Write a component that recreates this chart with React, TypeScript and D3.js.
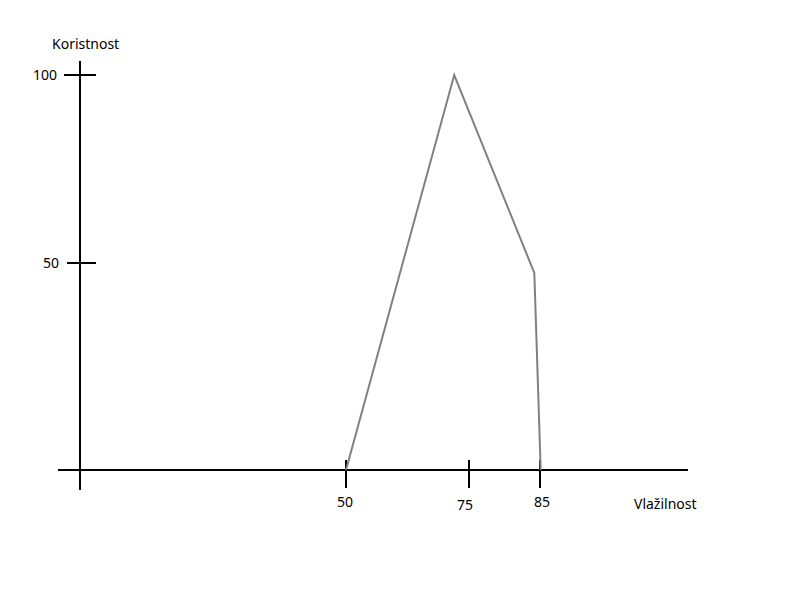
import React from "react";
import * as d3 from "d3";

const xTicks = [50, 75, 85];
const yTicks = [50, 100];
const curveX = [50, 72, 84.2, 85.1];
const curveY = [0, 100, 47.6, 0];
const xLabel = "Vlažilnost";
const yLabel = "Koristnost";

export default function App() {
  const W = 800, H = 600;
  // hand-drawn chart: piecewise linear scales
  const x = d3.scaleLinear().domain([50, 75, 85]).range([346, 469, 540]);
  const y = d3.scaleLinear().domain([0, 50, 100]).range([470, 263, 75]);
  const axisX0 = 80;
  const axisY0 = y(0);
  const pts: [number, number][] = curveX.map((v, i) => [x(v), y(curveY[i])]);
  const line = d3.line<[number, number]>().x(d => d[0]).y(d => d[1]);
  const font = "'Noto Sans', 'Open Sans', sans-serif";
  const labelDx: Record<number, number> = { 50: -1, 75: -4, 85: 2 };
  return (
    <svg width={W} height={H} style={{ position: "absolute", left: 0, top: 0, background: "#fff" }}>
      <rect width={W} height={H} fill="#fff" />
      {/* axes */}
      <line x1={axisX0} x2={axisX0} y1={61} y2={490} stroke="#000" strokeWidth={2} />
      <line x1={58} x2={688} y1={axisY0} y2={axisY0} stroke="#000" strokeWidth={2} />
      {yTicks.map(t => (
        <g key={"y" + t}>
          <line x1={t === 100 ? 64 : 67} x2={96} y1={y(t)} y2={y(t)} stroke="#000" strokeWidth={2} />
          <text x={t === 100 ? 57 : 59} y={y(t) + 5} textAnchor="end" fontFamily={font} fontSize={14} fill="#000">{t}</text>
        </g>
      ))}
      {xTicks.map(t => (
        <g key={"x" + t}>
          <line x1={x(t)} x2={x(t)} y1={460} y2={488} stroke="#000" strokeWidth={2} />
          <text x={x(t) + labelDx[t]} y={t === 75 ? 510 : 507} textAnchor="middle" fontFamily={font} fontSize={14} fill="#000">{t}</text>
        </g>
      ))}
      <path d={line(pts) || ""} fill="none" stroke="#808080" strokeWidth={2} strokeLinejoin="miter" />
      <text x={52} y={49} fontFamily={font} fontSize={14} fill="#000">{yLabel}</text>
      <text x={634} y={509} fontFamily={font} fontSize={14} fill="#000">{xLabel}</text>
    </svg>
  );
}
